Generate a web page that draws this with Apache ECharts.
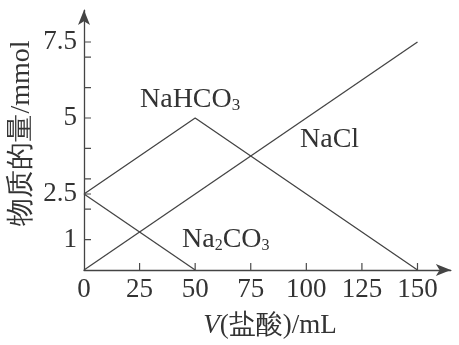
<!DOCTYPE html>
<html><head><meta charset="utf-8">
<script src="https://cdn.jsdelivr.net/npm/echarts@6/dist/echarts.min.js"></script>
<style>html,body{margin:0;padding:0;background:#fff}#c{width:459px;height:345px}</style>
</head><body><div id="c"></div>
<script>
const xTickLabels = [0, 25, 50, 75, 100, 125, 150];
const xTicks = [25, 50, 75, 100, 125, 150];
const yTickLabels = [1, 2.5, 5, 7.5];
const yTicks = [1, 2, 2.5, 3, 4, 5, 6, 7, 7.5];
const nahco3X = [0, 50, 150];
const nahco3Y = [2.5, 5, 0];
const na2co3X = [0, 50];
const na2co3Y = [2.5, 0];
const naclX = [0, 150];
const naclY = [0, 7.5];

const pairs = (xs, ys) => xs.map((x, i) => [x, ys[i]]);
const ink = '#333';
const lineC = '#444';
const font = '"Liberation Serif","Times New Roman",serif';
const fs = 27;
const pxX = 2.2233;           // px per mL
const pxY = 30.4;             // px per mmol
const left = 84, bottom = 75;
const xMax = 165, yMax = 8.55;
const W = 459, H = 345;
const tickPx = 7;

const chart = echarts.init(document.getElementById('c'), null, {renderer: 'canvas'});
const lineSeries = (d, extra) => Object.assign({
  type: 'line', data: d, symbol: 'none', silent: true, connectNulls: false,
  lineStyle: {color: lineC, width: 1.3}, animation: false
}, extra || {});
// axis ticks: short segments on the axes' own scales, separated by gaps
const xTickPath = xTicks.flatMap(v => [[v, 0], [v, tickPx / pxY], ['-', '-']]);
const yTickPath = yTicks.flatMap(v => [[0, v], [tickPx / pxX, v], ['-', '-']]);
chart.setOption({
  animation: false,
  grid: {left: left, right: W - left - xMax * pxX, top: H - bottom - yMax * pxY, bottom: bottom},
  xAxis: {
    type: 'value', min: 0, max: xMax,
    axisLine: {show: true, lineStyle: {color: lineC, width: 1.3}, symbol: ['none', 'arrow'], symbolSize: [9, 15]},
    axisTick: {show: false},
    axisLabel: {customValues: xTickLabels, color: ink, fontFamily: font, fontSize: fs, margin: 6},
    splitLine: {show: false}
  },
  yAxis: {
    type: 'value', min: 0, max: yMax,
    axisLine: {show: true, lineStyle: {color: lineC, width: 1.3}, symbol: ['none', 'arrow'], symbolSize: [9, 15]},
    axisTick: {show: false},
    axisLabel: {customValues: yTickLabels, color: ink, fontFamily: font, fontSize: fs, margin: 7},
    splitLine: {show: false}
  },
  series: [
    lineSeries(pairs(nahco3X, nahco3Y)),
    lineSeries(pairs(na2co3X, na2co3Y)),
    lineSeries(pairs(naclX, naclY)),
    lineSeries(xTickPath, {lineStyle: {color: '#4a4a4a', width: 1.2}}),
    lineSeries(yTickPath, {lineStyle: {color: '#4a4a4a', width: 1.2}})
  ],
  graphic: [
    {type: 'text', left: 140, top: 86, style: {
      text: 'NaHCO{s|3}', fill: ink, font: '28px ' + font,
      rich: {s: {fontSize: 17, fontFamily: font, fill: ink, verticalAlign: 'bottom', padding: [10, 0, 0, 0]}}}},
    {type: 'text', left: 300, top: 126, style: {text: 'NaCl', fill: ink, font: '28px ' + font}},
    {type: 'text', left: 182, top: 226, style: {
      text: 'Na{s|2}CO{s|3}', fill: ink, font: '28px ' + font,
      rich: {s: {fontSize: 16, fontFamily: font, fill: ink, verticalAlign: 'bottom', padding: [10, 0, 0, 0]}}}},
    {type: 'text', x: 270, y: 326, style: {
      text: '{i|V}(盐酸)/mL', fill: ink, font: fs + 'px ' + font, align: 'center', verticalAlign: 'middle',
      rich: {i: {fontStyle: 'italic', fontSize: fs, fontFamily: font, fill: ink}}}},
    {type: 'text', x: 22, y: 133, rotation: Math.PI / 2, style: {
      text: '物质的量/mmol', fill: ink, font: '28px ' + font, align: 'center', verticalAlign: 'middle'}}
  ]
});
</script></body></html>
